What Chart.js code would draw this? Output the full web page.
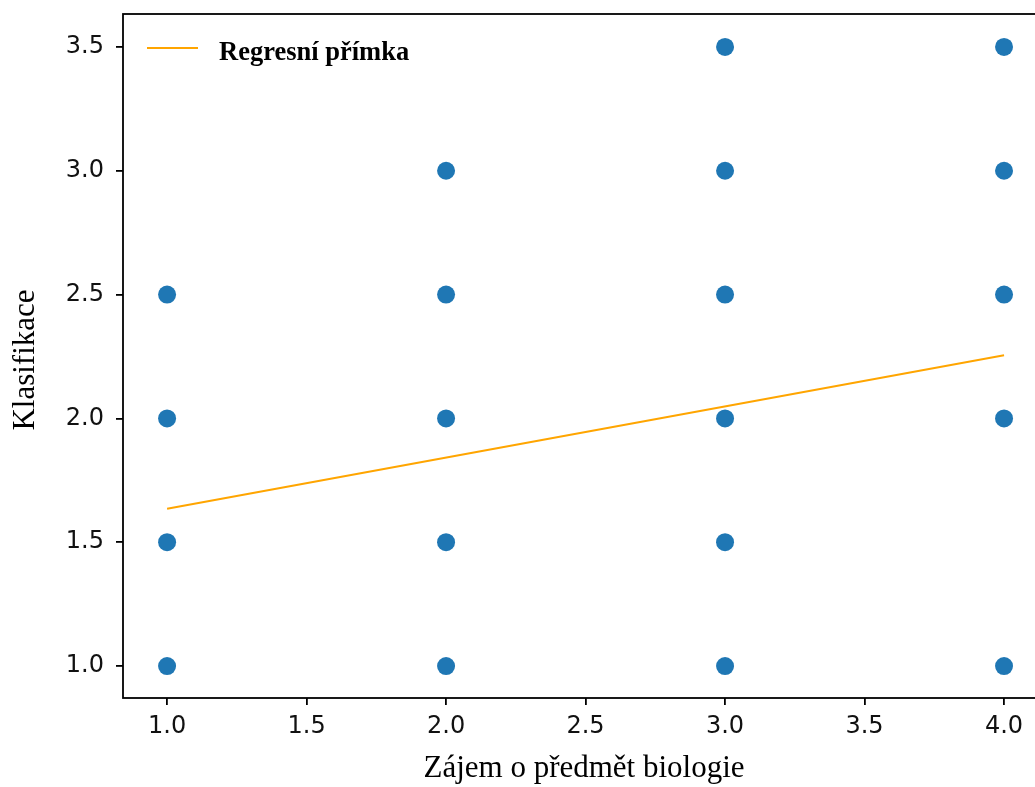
<!DOCTYPE html>
<html>
<head>
<meta charset="utf-8">
<script src="https://cdn.jsdelivr.net/npm/chart.js@4/dist/chart.umd.min.js"></script>
<style>
    html, body { margin: 0; padding: 0; background: #fff; overflow: hidden; }
</style>
</head>
<body>
<canvas id="chart" width="1056" height="787"></canvas>
<script>
'use strict';

/* ── Data ───────────────────────────────────────────────────────── */
const zajem = [1, 1, 1, 1,
               2, 2, 2, 2, 2,
               3, 3, 3, 3, 3, 3,
               4, 4, 4, 4, 4];
const klasifikace = [1.0, 1.5, 2.0, 2.5,
                     1.0, 1.5, 2.0, 2.5, 3.0,
                     1.0, 1.5, 2.0, 2.5, 3.0, 3.5,
                     1.0, 2.0, 2.5, 3.0, 3.5];
const regresX = [1, 4];
const regresY = [1.635, 2.255];

const xTicks = [1.0, 1.5, 2.0, 2.5, 3.0, 3.5, 4.0];
const yTicks = [1.0, 1.5, 2.0, 2.5, 3.0, 3.5];

const xTitle = 'Zájem o předmět biologie';
const yTitle = 'Klasifikace';
const legendLabel = 'Regresní přímka';

/* ── Plugins ────────────────────────────────────────────────────── */
const framePlugin = {
    id: 'frame',
    afterDraw(chart) {
        const { ctx, chartArea: a } = chart;
        ctx.save();
        ctx.strokeStyle = '#000';
        ctx.lineWidth = 1.8;
        ctx.strokeRect(a.left, a.top, a.right - a.left, a.bottom - a.top);

        // axis titles
        ctx.fillStyle = '#000';
        ctx.font = '31px "Liberation Serif", "Times New Roman", serif';
        ctx.textAlign = 'center';
        ctx.textBaseline = 'alphabetic';
        ctx.fillText(xTitle, 584, 777);
        ctx.translate(34, 360);
        ctx.rotate(-Math.PI / 2);
        ctx.fillText(yTitle, 0, 0);
        ctx.restore();

        // legend (upper left, no frame)
        const ds = chart.data.datasets[1];
        ctx.save();
        ctx.strokeStyle = ds.borderColor;
        ctx.lineWidth = 2;
        ctx.beginPath();
        ctx.moveTo(147, 48);
        ctx.lineTo(198, 48);
        ctx.stroke();
        ctx.fillStyle = '#000';
        ctx.font = 'bold 26.5px "Liberation Serif", "Times New Roman", serif';
        ctx.textAlign = 'left';
        ctx.textBaseline = 'alphabetic';
        ctx.fillText(ds.label, 219, 60);
        ctx.restore();
    }
};

/* ── Chart ──────────────────────────────────────────────────────── */
const tickFont = { family: '"DejaVu Sans", sans-serif', size: 24 };

new Chart(document.getElementById('chart'), {
    type: 'scatter',
    data: {
        datasets: [
            {
                label: 'Data',
                data: zajem.map((x, i) => ({ x, y: klasifikace[i] })),
                backgroundColor: '#1f77b4',
                borderColor: '#1f77b4',
                pointRadius: 9,
                pointHoverRadius: 9,
                borderWidth: 0,
                order: 2
            },
            {
                label: legendLabel,
                type: 'line',
                data: regresX.map((x, i) => ({ x, y: regresY[i] })),
                borderColor: '#ffa500',
                borderWidth: 2,
                pointRadius: 0,
                fill: false,
                order: 1
            }
        ]
    },
    options: {
        responsive: false,
        animation: false,
        events: [],
        layout: { padding: { top: 14, right: 3, left: 0, bottom: 0 } },
        plugins: { legend: { display: false }, tooltip: { enabled: false } },
        scales: {
            x: {
                type: 'linear',
                min: 0.842,
                max: 4.154,
                afterBuildTicks: s => { s.ticks = xTicks.map(v => ({ value: v })); },
                afterFit: s => { s.height = 89; s.paddingLeft = 0; s.paddingRight = 0; },
                grid: { drawOnChartArea: false, drawTicks: true, tickLength: 7, color: '#000', lineWidth: 1.8 },
                border: { display: false },
                ticks: {
                    color: '#111',
                    font: tickFont,
                    padding: 7,
                    maxRotation: 0,
                    autoSkip: false,
                    callback: v => v.toFixed(1)
                }
            },
            y: {
                type: 'linear',
                min: 0.871,
                max: 3.633,
                afterBuildTicks: s => { s.ticks = yTicks.map(v => ({ value: v })); },
                afterFit: s => { s.width = 123; s.paddingTop = 0; s.paddingBottom = 0; },
                grid: { drawOnChartArea: false, drawTicks: true, tickLength: 7, color: '#000', lineWidth: 1.8 },
                border: { display: false },
                ticks: {
                    color: '#111',
                    font: tickFont,
                    padding: 12,
                    autoSkip: false,
                    callback: v => v.toFixed(1)
                }
            }
        }
    },
    plugins: [framePlugin]
});
</script>
</body>
</html>
